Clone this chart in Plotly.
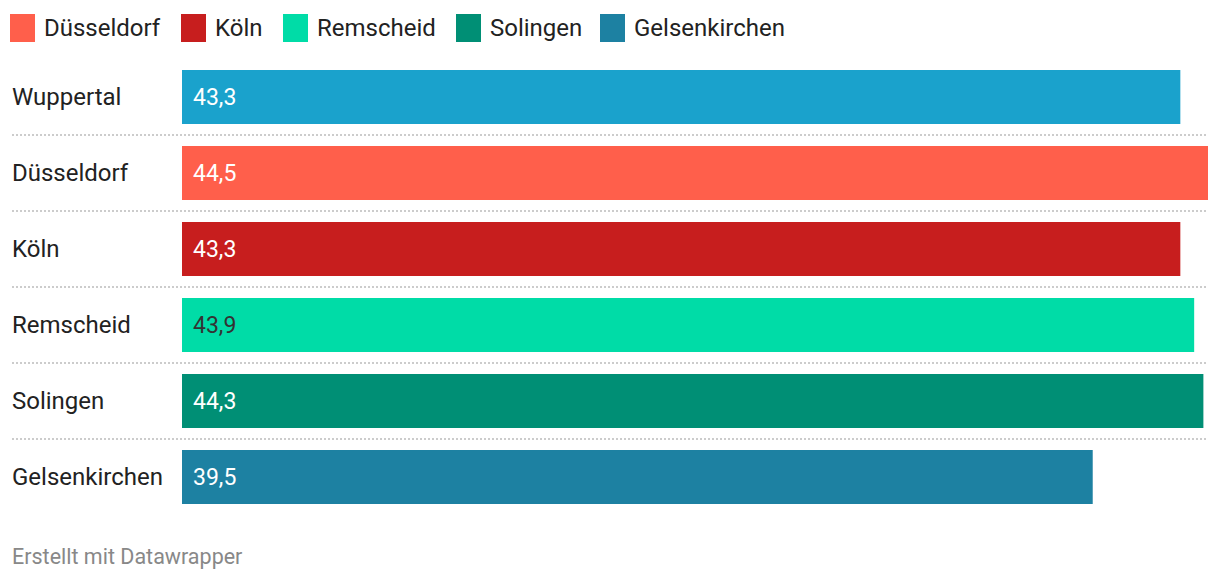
import plotly.graph_objects as go

cities = ["Wuppertal", "Düsseldorf", "Köln", "Remscheid", "Solingen", "Gelsenkirchen"]
values = [43.3, 44.5, 43.3, 43.9, 44.3, 39.5]
colors = ["#1aa2cc", "#ff5f4b", "#c71e1e", "#00dca7", "#008f75", "#1d81a2"]
label_colors = ["#ffffff", "#ffffff", "#ffffff", "#333333", "#ffffff", "#ffffff"]
legend_names = ["Düsseldorf", "Köln", "Remscheid", "Solingen", "Gelsenkirchen"]
legend_colors = ["#ff5f4b", "#c71e1e", "#00dca7", "#008f75", "#1d81a2"]
footer = "Erstellt mit Datawrapper"

OFF = 8  # page body margin
W, H = 1220 - OFF, 580 - OFF
ML, MR, MT, MB = 182 - OFF, 12, 59 - OFF, 65
PW = W - ML - MR
PH = H - MT - MB

def px_x(p):  # page pixel -> paper x
    return (p - OFF - ML) / PW

def px_y(p):  # page pixel -> paper y
    return 1 - (p - OFF - MT) / PH

def fmt(v):
    return f"{v:.1f}".replace(".", ",")

fig = go.Figure()
fig.add_trace(go.Bar(
    y=cities, x=values, orientation="h",
    marker=dict(color=colors, line=dict(width=0)),
    hoverinfo="skip", showlegend=False,
))

shapes = []
annotations = []
# value labels inside bars
for c, v, lc in zip(cities, values, label_colors):
    annotations.append(dict(
        x=0, xref="x", y=c, yref="y", text=fmt(v), showarrow=False,
        xanchor="left", yanchor="middle", xshift=9,
        font=dict(family="Roboto", size=23, color=lc),
    ))
# row labels
for c in cities:
    annotations.append(dict(
        x=px_x(10), xref="paper", y=c, yref="y", text=c, showarrow=False,
        xanchor="left", yanchor="middle",
        font=dict(family="Roboto", size=24, color="#222222"),
    ))
# dotted separators
for i in range(len(cities) - 1):
    shapes.append(dict(
        type="line", xref="paper", yref="y", x0=px_x(12), x1=1,
        y0=i + 0.5, y1=i + 0.5,
        line=dict(color="#cccccc", width=2, dash="2px,2px"),
    ))
# manual legend
legend_x = [10, 181, 283, 456, 600]
for name, col, lx in zip(legend_names, legend_colors, legend_x):
    shapes.append(dict(
        type="rect", xref="paper", yref="paper",
        x0=px_x(lx), x1=px_x(lx + 25),
        y0=px_y(14), y1=px_y(42),
        fillcolor=col, line=dict(width=0),
    ))
    annotations.append(dict(
        x=px_x(lx + 32), xref="paper", y=px_y(28), yref="paper",
        text=name, showarrow=False, xanchor="left", yanchor="middle",
        font=dict(family="Roboto", size=24, color="#222222"),
    ))
# footer
annotations.append(dict(
    x=px_x(10), xref="paper", y=px_y(556), yref="paper",
    text=footer, showarrow=False, xanchor="left", yanchor="middle",
    font=dict(family="Roboto", size=21.5, color="#888888"),
))

fig.update_layout(
    width=W, height=H,
    margin=dict(l=ML, r=MR, t=MT, b=MB, pad=0),
    paper_bgcolor="white", plot_bgcolor="white",
    bargap=22 / 76,
    xaxis=dict(range=[0, 44.5], visible=False, fixedrange=True),
    yaxis=dict(categoryorder="array", categoryarray=cities, autorange=False,
               range=[len(cities) - 0.5, -0.5], visible=False, fixedrange=True),
    shapes=shapes, annotations=annotations,
    font=dict(family="Roboto"),
)

fig.write_html("out.html", config={"displayModeBar": False})
